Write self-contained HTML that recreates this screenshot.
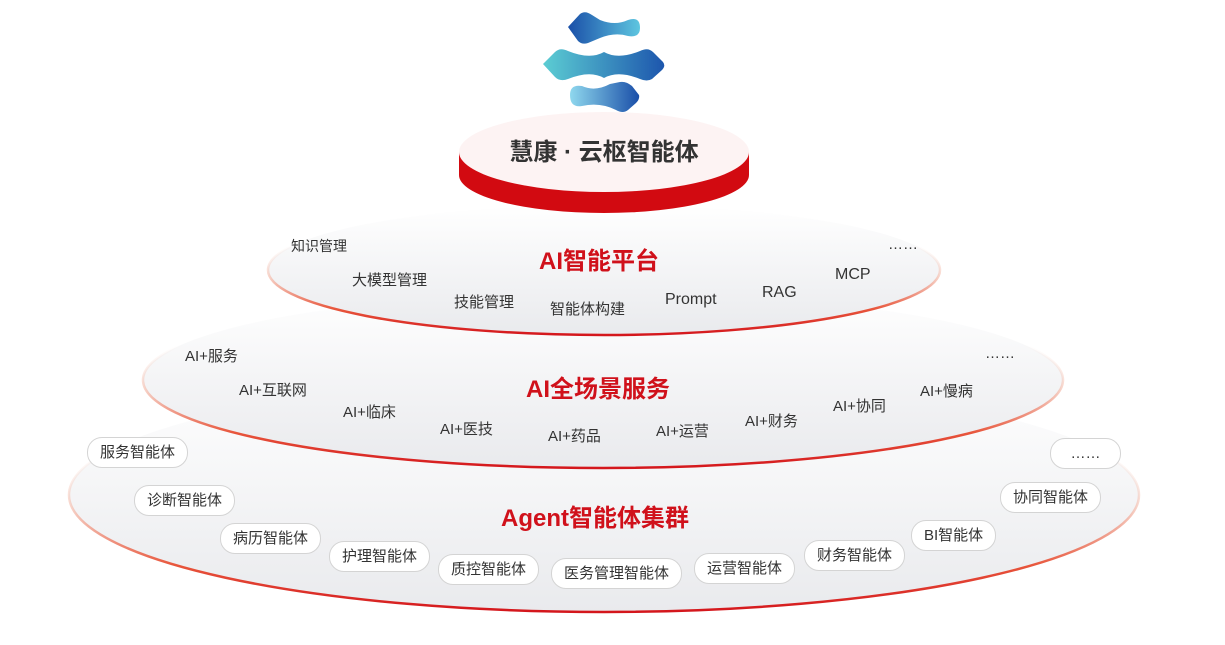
<!DOCTYPE html>
<html><head><meta charset="utf-8"><style>
body{margin:0;width:1225px;height:645px;background:#fff;overflow:hidden;font-family:"Liberation Sans","Noto Sans CJK SC",sans-serif}
svg{position:absolute;left:0;top:0}
.t{position:absolute;font-size:15px;color:#333;white-space:nowrap}
.h{position:absolute;font-size:24px;font-weight:bold;color:#d0111b;white-space:nowrap}
.p{position:absolute;font-size:15px;color:#333;border:1.5px solid #d4d4d4;border-radius:15px;background:#fff;padding:4px 12px;white-space:nowrap;line-height:21px}
</style></head><body>
<svg width="1225" height="645">
<defs>
<linearGradient id="f" x1="0" y1="0" x2="0" y2="1"><stop offset="0" stop-color="#fff"/><stop offset="1" stop-color="#e9eaed"/></linearGradient>
<linearGradient id="s" x1="0" y1="0" x2="0" y2="1"><stop offset="0.3" stop-color="#f6dcd2" stop-opacity="0"/><stop offset="0.55" stop-color="#f3b6a4" stop-opacity="0.6"/><stop offset="0.8" stop-color="#e8563c"/><stop offset="1" stop-color="#d4161c"/></linearGradient>
<linearGradient id="b1" x1="0" y1="0" x2="1" y2="0"><stop offset="0" stop-color="#1a4fa8"/><stop offset="1" stop-color="#5ec6e0"/></linearGradient>
<linearGradient id="b2" x1="0" y1="0" x2="1" y2="0"><stop offset="0" stop-color="#5ccdd3"/><stop offset="1" stop-color="#1d56ad"/></linearGradient>
<linearGradient id="b3" x1="0" y1="0" x2="1" y2="0"><stop offset="0" stop-color="#8fd8ee"/><stop offset="1" stop-color="#1a4fa8"/></linearGradient>
</defs>
<ellipse cx="604" cy="495" rx="535" ry="117" fill="url(#f)" stroke="url(#s)" stroke-width="2.5"/>
<ellipse cx="603" cy="380" rx="460" ry="88" fill="url(#f)" stroke="url(#s)" stroke-width="2.5"/>
<ellipse cx="604" cy="270" rx="336" ry="65" fill="url(#f)" stroke="url(#s)" stroke-width="2.5"/>
<path d="M459 152 L459 175 A145 38 0 0 0 749 175 L749 152 Z" fill="#d20a11"/>
<ellipse cx="604" cy="152" rx="145" ry="40" fill="#fdf3f3"/>
<path d="M568 27 L580 14 Q585 10 592 15 L600 20 Q615 26 628 20 Q640 16 640 28 Q640 38 628 36 Q615 32 600 38 L588 43 Q582 45 578 41 Z" fill="url(#b1)"/>
<path d="M543 64 L555 52 Q560 47 568 51 Q590 60 604 52 Q618 60 640 51 Q648 47 653 52 L663 62 Q666 66 662 70 L652 79 Q647 82 640 79 Q618 70 604 78 Q590 70 568 79 Q560 82 555 77 Z" fill="url(#b2)"/>
<path d="M570 95 Q570 84 582 86 Q595 92 610 84 L620 82 Q626 81 632 86 L639 95 Q640 99 636 103 L628 110 Q623 114 616 110 Q600 102 582 106 Q570 108 570 95 Z" fill="url(#b3)"/>
</svg>
<div style="position:absolute;left:459px;top:132px;width:290px;text-align:center;font-size:24px;font-weight:bold;color:#333">慧康 · 云枢智能体</div>
<div class="h" style="left:539px;top:241px">AI智能平台</div>
<div class="t" style="left:291px;top:236px;font-size:14px">知识管理</div>
<div class="t" style="left:352px;top:269px">大模型管理</div>
<div class="t" style="left:454px;top:291px">技能管理</div>
<div class="t" style="left:550px;top:298px">智能体构建</div>
<div class="t" style="left:665px;top:291px;font-size:16px">Prompt</div>
<div class="t" style="left:762px;top:284px;font-size:16px">RAG</div>
<div class="t" style="left:835px;top:266px;font-size:16px">MCP</div>
<div class="t" style="left:888px;top:236px">……</div>
<div class="h" style="left:526px;top:369px">AI全场景服务</div>
<div class="t" style="left:185px;top:345px">AI+服务</div>
<div class="t" style="left:239px;top:379px">AI+互联网</div>
<div class="t" style="left:343px;top:401px">AI+临床</div>
<div class="t" style="left:440px;top:418px">AI+医技</div>
<div class="t" style="left:548px;top:425px">AI+药品</div>
<div class="t" style="left:656px;top:420px">AI+运营</div>
<div class="t" style="left:745px;top:410px">AI+财务</div>
<div class="t" style="left:833px;top:395px">AI+协同</div>
<div class="t" style="left:920px;top:380px">AI+慢病</div>
<div class="t" style="left:985px;top:345px">……</div>
<div class="h" style="left:501px;top:498px">Agent智能体集群</div>
<div class="p" style="left:87px;top:437px">服务智能体</div>
<div class="p" style="left:134px;top:485px">诊断智能体</div>
<div class="p" style="left:220px;top:523px">病历智能体</div>
<div class="p" style="left:329px;top:541px">护理智能体</div>
<div class="p" style="left:438px;top:554px">质控智能体</div>
<div class="p" style="left:551px;top:558px">医务管理智能体</div>
<div class="p" style="left:694px;top:553px">运营智能体</div>
<div class="p" style="left:804px;top:540px">财务智能体</div>
<div class="p" style="left:911px;top:520px">BI智能体</div>
<div class="p" style="left:1000px;top:482px">协同智能体</div>
<div class="p" style="left:1050px;top:438px;width:45px;text-align:center">……</div>
</body></html>
